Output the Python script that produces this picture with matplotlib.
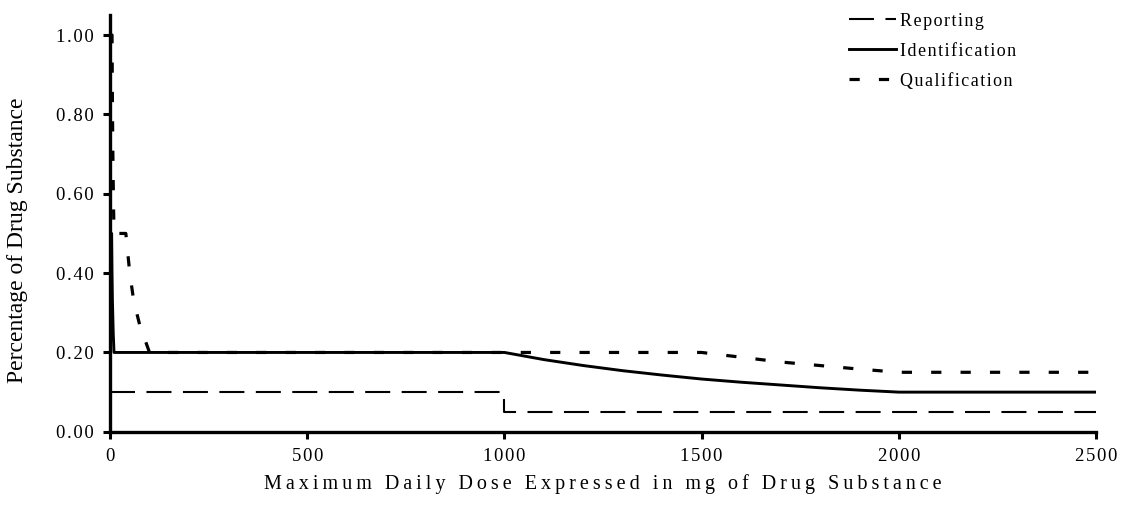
import numpy as np
import matplotlib.pyplot as plt

# dose (mg) and threshold (%)
rep_x = [0, 1000, 1000, 2500]
rep_y = [0.10, 0.10, 0.05, 0.05]

ident_x = [0, 0.5, 1, 4, 5, 6, 8, 10, 1000, 1100, 1200, 1300, 1400, 1500,
           1600, 1700, 1800, 1900, 2000, 2500]
ident_y = [1.00, 1.00, 0.50, 0.50, 0.40, 0.33, 0.25, 0.20, 0.20, 0.182, 0.167, 0.154, 0.143, 0.133,
           0.125, 0.118, 0.111, 0.105, 0.10, 0.10]

qual_x = [0, 5, 6, 7, 8, 9, 10, 40, 50, 60, 75, 100, 1500, 1600, 1700, 1800, 1900, 2000, 2500]
qual_y = [1.00, 1.00, 0.83, 0.71, 0.63, 0.56, 0.50, 0.50, 0.40, 0.33, 0.27, 0.20, 0.20,
          0.188, 0.176, 0.167, 0.158, 0.15, 0.15]

xticks = [0, 500, 1000, 1500, 2000, 2500]
yticks = [0.0, 0.2, 0.4, 0.6, 0.8, 1.0]

serif = ['Liberation Serif', 'DejaVu Serif']
plt.rcParams['font.family'] = serif


def spaced(s, sp='\u200a'):
    return sp.join(s)


fig = plt.figure(figsize=(11.23, 5.08), dpi=100)
ax = fig.add_axes([0.098, 0.15, 0.878, 0.82])

ax.plot(qual_x, qual_y, c='black', lw=2.3, dashes=(3.2, 6.0), label=spaced('Qualification'))
ax.plot(rep_x, rep_y, c='black', lw=1.5, dashes=(12, 5.5), label=spaced('Reporting'))
ax.plot(ident_x, ident_y, c='black', lw=2.1, label=spaced('Identification'))

ax.set_xlim(0, 2500)
ax.set_ylim(0, 1.05)
ax.set_xticks(xticks)
ax.set_xticklabels([spaced(str(t)) for t in xticks])
ax.set_yticks(yticks)
ax.set_yticklabels([spaced('%.2f' % t) for t in yticks])

for s in ['top', 'right']:
    ax.spines[s].set_visible(False)
ax.spines['left'].set_linewidth(2.4)
ax.spines['bottom'].set_linewidth(2.4)
ax.tick_params(axis='both', direction='out', width=2.2, length=5, labelsize=13.5, pad=7)

ax.set_xlabel(spaced('Maximum Daily Dose Expressed in mg of Drug Substance', '\u2009'),
              fontsize=14.5, labelpad=6)
ax.set_ylabel('Percentage of Drug Substance', fontsize=17)
ax.yaxis.set_label_coords(-0.083, 0.46)

h, l = ax.get_legend_handles_labels()
order = [1, 2, 0]
ax.legend([h[i] for i in order], [l[i] for i in order], loc='upper right',
          bbox_to_anchor=(0.935, 1.045), frameon=False, fontsize=13,
          handlelength=2.6, handletextpad=0.2, labelspacing=0.72)

plt.savefig('out.png', dpi=100)
plt.close()
